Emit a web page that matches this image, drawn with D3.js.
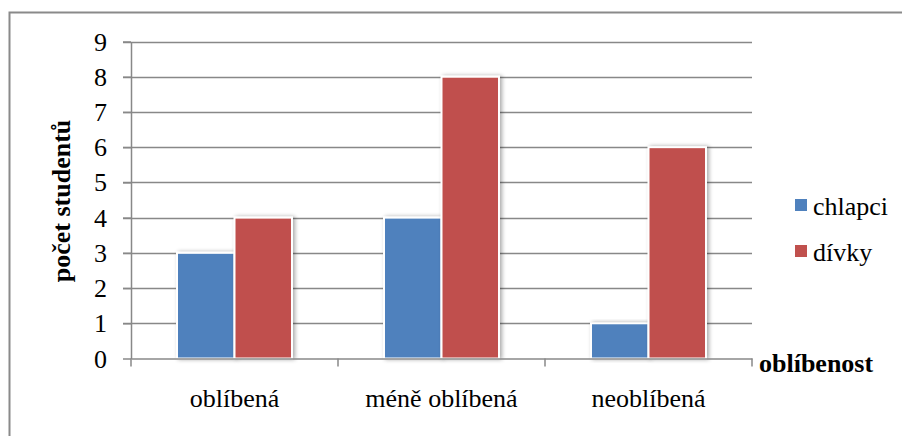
<!DOCTYPE html>
<html>
<head>
<meta charset="utf-8">
<script src="https://cdn.jsdelivr.net/npm/d3@7"></script>
<style>
  html, body { margin: 0; padding: 0; background: #fff; }
  svg { display: block; }
  svg text { font-family: "Liberation Serif", "Times New Roman", serif; fill: #000; }
</style>
</head>
<body>
<svg id="chart" width="902" height="436"></svg>
<script>
const categories = ["oblíbená", "méně oblíbená", "neoblíbená"];
const seriesNames = ["chlapci", "dívky"];
const chlapci = [3, 4, 1];
const divky = [4, 8, 6];
const yTicks = [0, 1, 2, 3, 4, 5, 6, 7, 8, 9];
const colors = ["#4F81BD", "#C0504D"];
const fontSize = 26;

const svg = d3.select("#chart");

// outer chart frame (only top and left edges fall inside the view)
svg.append("rect")
  .attr("x", 9.5).attr("y", 12.5)
  .attr("width", 1000).attr("height", 1000)
  .attr("fill", "none").attr("stroke", "#8a8a8a").attr("stroke-width", 2);

const plot = { left: 131, right: 752, top: 41.5, bottom: 358.5 };

const x = d3.scaleBand().domain(categories).range([plot.left, plot.right]).paddingInner(0).paddingOuter(0);
const y = d3.scaleLinear().domain([0, 9]).range([plot.bottom, plot.top]);
const inner = d3.scaleBand().domain(seriesNames).range([0, x.bandwidth()]).paddingInner(0).paddingOuter(0.8);

const defs = svg.append("defs");
const f = defs.append("filter").attr("id", "shadow").attr("x", "-30%").attr("y", "-10%").attr("width", "160%").attr("height", "120%");
f.append("feGaussianBlur").attr("in", "SourceAlpha").attr("stdDeviation", 2.2);
f.append("feOffset").attr("dx", 1.5).attr("dy", 0).attr("result", "b");
f.append("feComponentTransfer").append("feFuncA").attr("type", "linear").attr("slope", 0.35);
const m = f.append("feMerge");
m.append("feMergeNode");
m.append("feMergeNode").attr("in", "SourceGraphic");

// horizontal gridlines with short tick stubs on the left
svg.append("g").selectAll("line").data(yTicks.filter(d => d > 0)).join("line")
  .attr("x1", plot.left - 8).attr("x2", plot.right)
  .attr("y1", d => Math.round(y(d)) + 0.5).attr("y2", d => Math.round(y(d)) + 0.5)
  .attr("stroke", "#888").attr("stroke-width", 1.5);

// bars
const series = seriesNames.map((name, i) => ({ name, values: i === 0 ? chlapci : divky, color: colors[i] }));
series.forEach(s => {
  svg.append("g").selectAll("rect").data(s.values).join("rect")
    .attr("x", (d, i) => x(categories[i]) + inner(s.name))
    .attr("y", d => y(d))
    .attr("width", inner.bandwidth())
    .attr("height", d => plot.bottom - y(d))
    .attr("fill", s.color)
    .attr("stroke", "#fff").attr("stroke-width", 2)
    .attr("filter", "url(#shadow)");
});

// y axis
const yAxis = svg.append("g").attr("transform", `translate(${plot.left},0)`)
  .call(d3.axisLeft(y).tickValues(yTicks).tickSize(8).tickPadding(16).tickSizeOuter(0));
yAxis.attr("font-family", null).attr("font-size", null);
yAxis.select(".domain").attr("stroke", "#888").attr("stroke-width", 1.5);
yAxis.selectAll(".tick line").attr("stroke", "#888").attr("stroke-width", 1.5);
yAxis.selectAll("text").style("font-size", fontSize + "px").attr("fill", "#000").attr("dy", "0.33em");

// x axis
const xAxis = svg.append("g").attr("transform", `translate(0,${plot.bottom})`)
  .call(d3.axisBottom(x).tickSize(0).tickSizeOuter(0));
xAxis.attr("font-family", null).attr("font-size", null);
xAxis.select(".domain").attr("stroke", "#888").attr("stroke-width", 1.5);
xAxis.selectAll("text").style("font-size", fontSize + "px").attr("fill", "#000")
  .attr("y", 48.5).attr("dy", null);
// category boundary ticks
svg.append("g").selectAll("line").data(categories.concat([null])).join("line")
  .attr("x1", (d, i) => i < categories.length ? x(d) : plot.right)
  .attr("x2", (d, i) => i < categories.length ? x(d) : plot.right)
  .attr("y1", plot.bottom).attr("y2", plot.bottom + 8)
  .attr("stroke", "#888").attr("stroke-width", 1.5);

// axis titles
svg.append("text")
  .attr("transform", `translate(70,201) rotate(-90)`)
  .attr("text-anchor", "middle")
  .style("font-weight", "bold").style("font-size", fontSize + "px")
  .text("počet studentů");

svg.append("text")
  .attr("x", 759).attr("y", 372)
  .style("font-weight", "bold").style("font-size", fontSize + "px")
  .text("oblíbenost");

// legend
const legend = svg.append("g").selectAll("g").data(series).join("g")
  .attr("transform", (d, i) => `translate(795,${199 + i * 46})`);
legend.append("rect").attr("width", 12).attr("height", 12).attr("fill", d => d.color);
legend.append("text").attr("x", 18).attr("y", 16).style("font-size", fontSize + "px").text(d => d.name);
</script>
</body>
</html>
